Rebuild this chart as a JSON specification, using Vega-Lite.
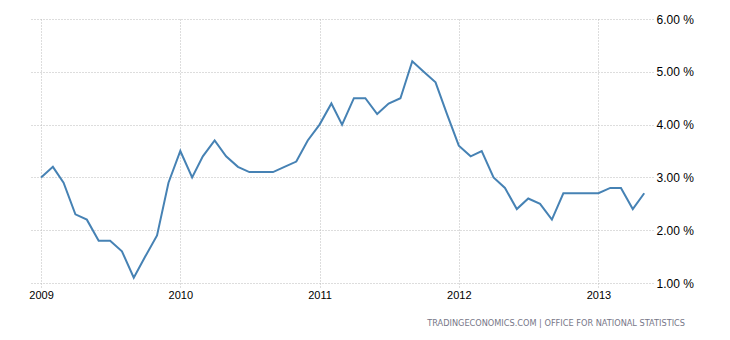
{
  "$schema": "https://vega.github.io/schema/vega-lite/v6.json",
  "width": 623,
  "height": 264,
  "autosize": "none",
  "padding": {"left": 30, "top": 19, "right": 77, "bottom": 57},
  "background": "white",
  "config": {"view": {"stroke": null}},
  "title": {
    "text": "TRADINGECONOMICS.COM  |  OFFICE FOR NATIONAL STATISTICS",
    "orient": "bottom",
    "anchor": "end",
    "frame": "group",
    "dx": 32,
    "offset": 20,
    "font": "DejaVu Sans",
    "fontSize": 8.2,
    "fontWeight": "normal",
    "color": "#777788"
  },
  "data": {
    "values": [
      {"date": "2009-01-01", "value": 3.0},
      {"date": "2009-02-01", "value": 3.2},
      {"date": "2009-03-01", "value": 2.9},
      {"date": "2009-04-01", "value": 2.3},
      {"date": "2009-05-01", "value": 2.2},
      {"date": "2009-06-01", "value": 1.8},
      {"date": "2009-07-01", "value": 1.8},
      {"date": "2009-08-01", "value": 1.6},
      {"date": "2009-09-01", "value": 1.1},
      {"date": "2009-10-01", "value": 1.5},
      {"date": "2009-11-01", "value": 1.9},
      {"date": "2009-12-01", "value": 2.9},
      {"date": "2010-01-01", "value": 3.5},
      {"date": "2010-02-01", "value": 3.0},
      {"date": "2010-03-01", "value": 3.4},
      {"date": "2010-04-01", "value": 3.7},
      {"date": "2010-05-01", "value": 3.4},
      {"date": "2010-06-01", "value": 3.2},
      {"date": "2010-07-01", "value": 3.1},
      {"date": "2010-08-01", "value": 3.1},
      {"date": "2010-09-01", "value": 3.1},
      {"date": "2010-10-01", "value": 3.2},
      {"date": "2010-11-01", "value": 3.3},
      {"date": "2010-12-01", "value": 3.7},
      {"date": "2011-01-01", "value": 4.0},
      {"date": "2011-02-01", "value": 4.4},
      {"date": "2011-03-01", "value": 4.0},
      {"date": "2011-04-01", "value": 4.5},
      {"date": "2011-05-01", "value": 4.5},
      {"date": "2011-06-01", "value": 4.2},
      {"date": "2011-07-01", "value": 4.4},
      {"date": "2011-08-01", "value": 4.5},
      {"date": "2011-09-01", "value": 5.2},
      {"date": "2011-10-01", "value": 5.0},
      {"date": "2011-11-01", "value": 4.8},
      {"date": "2011-12-01", "value": 4.2},
      {"date": "2012-01-01", "value": 3.6},
      {"date": "2012-02-01", "value": 3.4},
      {"date": "2012-03-01", "value": 3.5},
      {"date": "2012-04-01", "value": 3.0},
      {"date": "2012-05-01", "value": 2.8},
      {"date": "2012-06-01", "value": 2.4},
      {"date": "2012-07-01", "value": 2.6},
      {"date": "2012-08-01", "value": 2.5},
      {"date": "2012-09-01", "value": 2.2},
      {"date": "2012-10-01", "value": 2.7},
      {"date": "2012-11-01", "value": 2.7},
      {"date": "2012-12-01", "value": 2.7},
      {"date": "2013-01-01", "value": 2.7},
      {"date": "2013-02-01", "value": 2.8},
      {"date": "2013-03-01", "value": 2.8},
      {"date": "2013-04-01", "value": 2.4},
      {"date": "2013-05-01", "value": 2.7}
    ]
  },
  "mark": {"type": "line", "color": "#4682b4", "strokeWidth": 2, "strokeJoin": "miter"},
  "encoding": {
    "x": {
      "field": "date",
      "type": "temporal",
      "scale": {"domain": [{"year": 2008, "month": 12, "date": 3}, {"year": 2013, "month": 5, "date": 24}]},
      "axis": {
        "title": null,
        "values": [{"year": 2009, "month": 1, "date": 1}, {"year": 2010, "month": 1, "date": 1}, {"year": 2011, "month": 1, "date": 1}, {"year": 2012, "month": 1, "date": 1}, {"year": 2013, "month": 1, "date": 1}],
        "format": "%Y",
        "domain": false,
        "ticks": true,
        "tickSize": 4,
        "tickColor": "#bbbbbb",
        "tickDash": [1, 2],
        "grid": true,
        "gridColor": "#bbbbbb",
        "gridDash": [1, 2],
        "gridWidth": 1,
        "labelFont": "Liberation Sans",
        "labelFontSize": 11,
        "labelColor": "#000000",
        "labelPadding": 2,
        "labelFlush": false
      }
    },
    "y": {
      "field": "value",
      "type": "quantitative",
      "scale": {"domain": [1, 6], "nice": false, "zero": false},
      "axis": {
        "title": null,
        "orient": "right",
        "values": [1, 2, 3, 4, 5, 6],
        "labelExpr": "format(datum.value, '.2f') + ' %'",
        "domain": false,
        "ticks": false,
        "grid": true,
        "gridColor": "#bbbbbb",
        "gridDash": [1, 2],
        "gridWidth": 1,
        "labelFont": "Liberation Sans",
        "labelFontSize": 12,
        "labelColor": "#000000",
        "labelPadding": 3,
        "labelFlush": false
      }
    }
  }
}
